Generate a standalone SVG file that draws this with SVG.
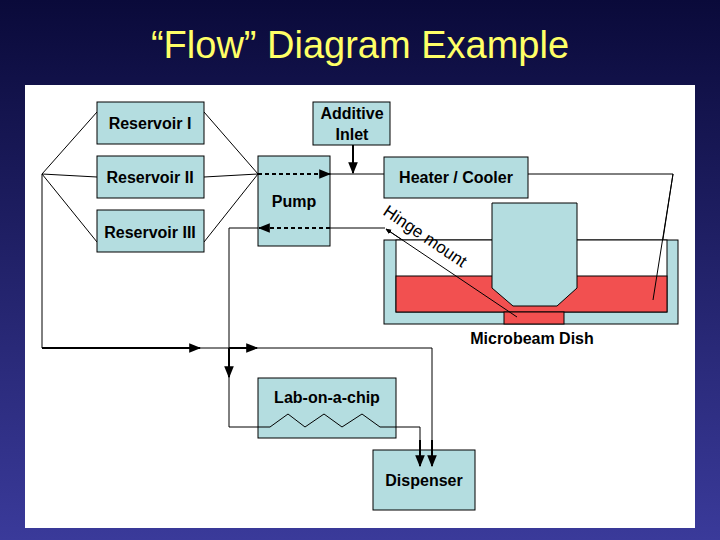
<svg xmlns="http://www.w3.org/2000/svg" width="720" height="540" viewBox="0 0 720 540">
<defs>
<linearGradient id="bg" x1="0" y1="0" x2="0" y2="1"><stop offset="0" stop-color="#0a0a3a"/><stop offset="1" stop-color="#3a3a9a"/></linearGradient>
<marker id="ah" viewBox="0 0 10 10" refX="9" refY="5" markerWidth="6" markerHeight="6" orient="auto-start-reverse"><path d="M0,1 L10,5 L0,9 z" fill="#000"/></marker>
<style>
.box{fill:#b4dde0;stroke:#000;stroke-width:1}
.t{font-family:"Liberation Sans",Arial,sans-serif;font-size:16px;font-weight:bold;fill:#000;text-anchor:middle}
.l{fill:none;stroke:#000;stroke-width:1}
.d{fill:none;stroke:#000;stroke-width:2;stroke-dasharray:4,3}
.k{fill:none;stroke:#000;stroke-width:2}
</style>
</defs>
<rect width="720" height="540" fill="url(#bg)"/>
<rect x="25" y="85" width="670" height="443" fill="#fff"/>
<text x="360" y="58" font-family="Liberation Sans,Arial,sans-serif" font-size="38" fill="#ffff66" text-anchor="middle">“Flow” Diagram Example</text>
<g id="connectors">
<path class="l" d="M204,112 L258,174 M204,177 L258,174 M204,242 L258,174"/>
<path class="l" d="M97,112 L42,174 M97,177 L42,174 M97,242 L42,174 L42,348 L432,348 L432,466"/>
<path class="k" d="M42,348 L200,348" marker-end="url(#ah)"/>
<path class="k" d="M229,348 L257,348" marker-end="url(#ah)"/>
<path class="k" d="M229,348 L229,377" marker-end="url(#ah)"/>
<path class="d" d="M258,174 L330,174" marker-end="url(#ah)"/>
<path class="d" d="M330,228 L259,228" marker-end="url(#ah)"/>
<path class="l" d="M258,228 L229,228 L229,427 L270,427 L288,414 L305,427 L324,414 L342,427 L362,414 L380,427 L420,427 L420,466"/>
<path class="k" d="M420,440 L420,466" marker-end="url(#ah)"/>
<path class="k" d="M432,440 L432,466" marker-end="url(#ah)"/>
<path class="l" d="M330,174 L384,174 M528,174 L673,174"/>
<path class="k" d="M353,145 L353,173" marker-end="url(#ah)"/>
<path class="l" d="M673,174 L653,304" marker-end="url(#ah)"/>
<path class="l" d="M330,228 L385,228"/>
<path class="l" d="M517,317 L386,229" marker-end="url(#ah)"/>
</g>
<g id="reservoir1"><rect class="box" x="97" y="102" width="107" height="42"/><text class="t" x="150" y="129">Reservoir I</text></g>
<g id="reservoir2"><rect class="box" x="97" y="156" width="107" height="42"/><text class="t" x="150" y="183">Reservoir II</text></g>
<g id="reservoir3"><rect class="box" x="97" y="210" width="107" height="42"/><text class="t" x="150" y="238">Reservoir III</text></g>
<g id="pump"><rect class="box" x="258" y="156" width="72" height="90" fill-opacity="1"/><text class="t" x="294" y="207">Pump</text>
<path class="d" d="M258,174 L330,174" marker-end="url(#ah)"/><path class="d" d="M330,228 L259,228" marker-end="url(#ah)"/></g>
<g id="additive"><rect class="box" x="313" y="102" width="77" height="43"/><text class="t" x="352" y="119">Additive</text><text class="t" x="352" y="140">Inlet</text></g>
<g id="heater"><rect class="box" x="384" y="157" width="144" height="41"/><text class="t" x="456" y="183">Heater / Cooler</text></g>
<g id="dish">
<rect x="384" y="240" width="294" height="84" fill="#b4dde0" stroke="#000"/>
<rect x="396" y="240" width="271" height="72" fill="#fff" stroke="#000"/>
<rect x="396" y="276" width="271" height="36" fill="#f25050" stroke="#000"/>
<rect x="504" y="312" width="60" height="12" fill="#f25050" stroke="#000"/>
<path d="M492,203 L577,203 L577,288 L557,306 L513,306 L492,288 Z" fill="#b4dde0" stroke="#000"/>
<path class="l" d="M517,317 L386,229" marker-end="url(#ah)"/>
<path class="l" d="M653,300 L673,174"/>
<text x="382" y="214" transform="rotate(34 382 214)" font-family="Liberation Sans,Arial,sans-serif" font-size="17" fill="#000">Hinge mount</text>
<text class="t" x="532" y="344">Microbeam Dish</text>
</g>
<g id="labchip"><rect class="box" x="258" y="378" width="138" height="60"/><text class="t" x="327" y="403">Lab-on-a-chip</text>
<path class="l" d="M258,427 L270,427 L288,414 L305,427 L324,414 L342,427 L362,414 L380,427 L396,427"/></g>
<g id="dispenser"><rect class="box" x="373" y="450" width="102" height="60"/><text class="t" x="424" y="486">Dispenser</text>
<path class="k" d="M420,440 L420,466" marker-end="url(#ah)"/><path class="k" d="M432,440 L432,466" marker-end="url(#ah)"/></g>
</svg>
